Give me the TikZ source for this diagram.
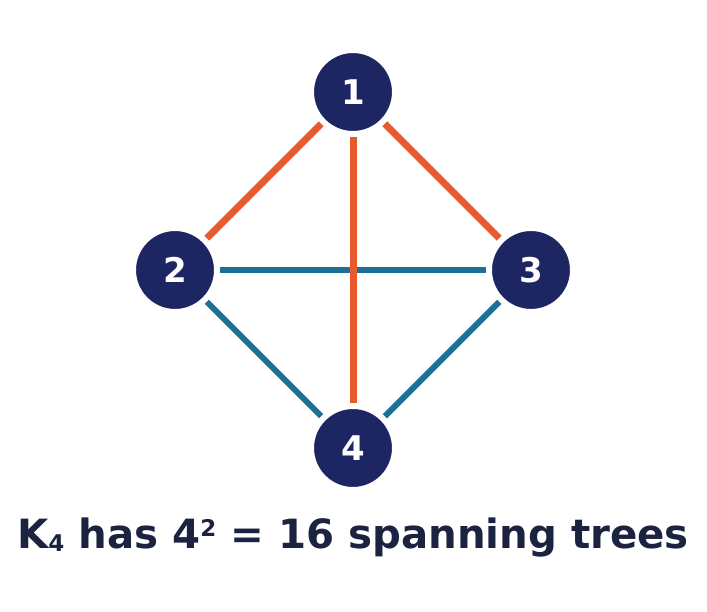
\documentclass[tikz,border=0pt]{standalone}
\usepackage{fontspec}
\setmainfont{DejaVu Sans}
\definecolor{navy}{HTML}{1E2563}
\definecolor{ink}{HTML}{1C2340}
\definecolor{edgeorange}{HTML}{E65A2E}
\definecolor{edgeblue}{HTML}{1B7194}
\begin{document}
\begin{tikzpicture}[x=1pt,y=-1pt,
  vertex/.style={circle,fill=navy,draw=white,line width=2pt,minimum size=80pt,inner sep=0pt,
    text=white,font=\bfseries\fontsize{34}{38}\selectfont},
  tree/.style={edgeorange,line width=7pt,shorten <=4pt,shorten >=4pt},
  rest/.style={edgeblue,line width=6pt,shorten <=4pt,shorten >=4pt}]
\useasboundingbox (0,0) rectangle (707,611);

\node[vertex] (n1) at (353,92) {1};
\node[vertex] (n2) at (175,270) {2};
\node[vertex] (n3) at (531,270) {3};
\node[vertex] (n4) at (353,448) {4};

% remaining edges
\draw[rest] (n2) -- (n3);
\draw[rest] (n2) -- (n4);
\draw[rest] (n3) -- (n4);
% spanning tree
\draw[tree] (n1) -- (n2);
\draw[tree] (n1) -- (n3);
\draw[tree] (n1) -- (n4);

\node[text=ink,font=\bfseries\fontsize{40.3}{44}\selectfont] (caption) at (353,538)
  {K\raisebox{-0.1ex}{\fontsize{23}{24}\selectfont 4} has 4\raisebox{0.55ex}{\fontsize{23}{24}\selectfont 2} = 16 spanning trees};
\end{tikzpicture}
\end{document}
